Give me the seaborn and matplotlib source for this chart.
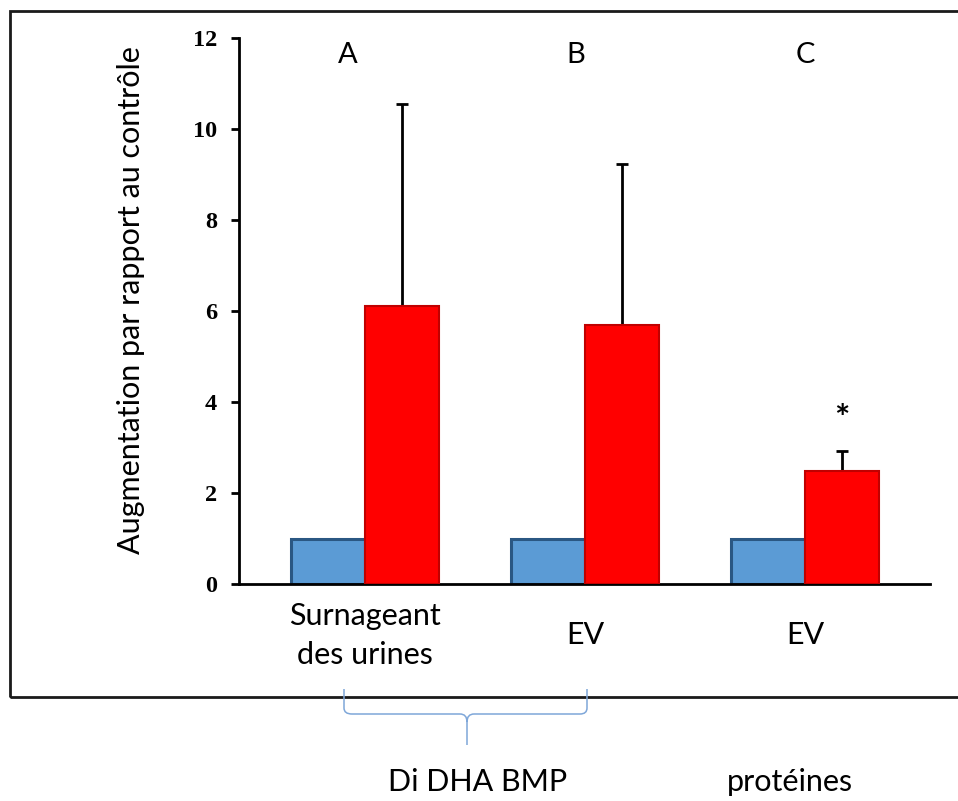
import matplotlib
matplotlib.use("Agg")
import matplotlib.pyplot as plt
import seaborn as sns
import pandas as pd
import numpy as np
from matplotlib.path import Path
from matplotlib.patches import PathPatch, Rectangle

# ---- data ----
group_keys = ["A", "B", "C"]
group_letters = ["A", "B", "C"]
tick_labels = ["Surnageant\ndes urines", "EV", "EV"]
series = ["Contrôle", "Traité"]
control_values = [1.0, 1.0, 1.0]
treated_values = [6.1, 5.7, 2.48]
treated_err_up = [4.45, 3.52, 0.45]
bottom_labels = ["Di DHA BMP", "protéines"]

rows = []
for k, c, t in zip(group_keys, control_values, treated_values):
    rows.append({"groupe": k, "serie": series[0], "valeur": c})
    rows.append({"groupe": k, "serie": series[1], "valeur": t})
df = pd.DataFrame(rows)

sns.set_style("white")
plt.rcParams["font.family"] = ["Lato", "DejaVu Sans"]
plt.rcParams["text.color"] = "black"
plt.rcParams["axes.labelcolor"] = "black"
plt.rcParams["xtick.color"] = "black"
plt.rcParams["ytick.color"] = "black"

W, H = 958, 801
fig = plt.figure(figsize=(W / 100, H / 100), dpi=100)
ax = fig.add_axes([239 / W, 1 - 584 / H, (930 - 239) / W, (584 - 38) / H])

palette = {series[0]: "#5B9BD5", series[1]: "#FF0000"}
sns.barplot(data=df, x="groupe", y="valeur", hue="serie", order=group_keys,
            hue_order=series, palette=palette, width=0.672, gap=0,
            errorbar=None, saturation=1, ax=ax, legend=False)

edge = {series[0]: "#2A5783", series[1]: "#C00000"}
bars = ax.patches
n = len(group_keys)
for i, p in enumerate(bars[:2 * n]):
    s = series[0] if i < n else series[1]
    p.set_edgecolor(edge[s])
    p.set_linewidth(2.2 if s == series[0] else 1.5)
    p.set_zorder(2 if s == series[0] else 3)

red_bars = bars[n:2 * n]
xs = [p.get_x() + p.get_width() / 2 for p in red_bars]
ax.errorbar(xs, treated_values, yerr=[np.zeros(n), treated_err_up], fmt="none",
            ecolor="black", elinewidth=2, capsize=4.5, capthick=2, zorder=1)

# significance star
ax.text(xs[2], 3.62, "*", ha="center", va="center", fontsize=26,
        fontweight="bold", color="black")

# group letters
letter_x = [-0.08, 0.96, 2.0]
for lx, L in zip(letter_x, group_letters):
    ax.text(lx, 11.63, L, ha="center", va="center", fontsize=21, color="black")

ax.set_xlim(-0.573, 2.568)
ax.set_ylim(0, 12)
ax.set_yticks([0, 2, 4, 6, 8, 10, 12])
ax.set_yticklabels(["0", "2", "4", "6", "8", "10", "12"],
                   family="Liberation Serif", fontweight="bold", fontsize=17.5)
ax.set_xticks(range(n))
ax.set_xticklabels(tick_labels, fontsize=22, linespacing=1.45)
for lbl in ax.get_xticklabels():
    lbl.set_va("center")
ax.tick_params(axis="x", length=0, pad=37, colors="black")
ax.tick_params(axis="y", direction="out", length=6, width=2, pad=10, left=True,
               colors="black")
ax.set_xlabel("")
ax.set_ylabel("Augmentation par rapport au contrôle", fontsize=22, color="black")
ax.yaxis.set_label_coords((145 - 239) / 691, (584 - 300) / 546)

for sp in ["top", "right"]:
    ax.spines[sp].set_visible(False)
for sp in ["left", "bottom"]:
    ax.spines[sp].set_color("black")
    ax.spines[sp].set_linewidth(2)
ax.set_facecolor("white")

# outer frame (extends beyond right edge)
frame = Rectangle((10 / W, 1 - 697 / H), (970 - 10) / W, (697 - 11) / H,
                  transform=fig.transFigure, fill=False, edgecolor="#1a1a1a",
                  linewidth=2, zorder=0)
fig.patches.append(frame)

# curly brace
def px(x, y):
    return (x / W, 1 - y / H)

verts = [px(344, 689), px(344, 708), px(344, 714), px(352, 714),
         px(460, 714), px(467, 714), px(467, 722), px(467, 745),
         px(467, 722), px(467, 714), px(474, 714), px(580, 714),
         px(587, 714), px(587, 708), px(587, 689)]
codes = [Path.MOVETO, Path.LINETO, Path.CURVE3, Path.CURVE3,
         Path.LINETO, Path.CURVE3, Path.CURVE3, Path.LINETO,
         Path.MOVETO, Path.CURVE3, Path.CURVE3, Path.LINETO,
         Path.CURVE3, Path.CURVE3, Path.LINETO]
brace = PathPatch(Path(verts, codes), transform=fig.transFigure, fill=False,
                  edgecolor="#7FA7D9", linewidth=1.1)
fig.patches.append(brace)

fig.text(478 / W, 1 - 782 / H, bottom_labels[0], ha="center", va="center", fontsize=22)
fig.text(790 / W, 1 - 782 / H, bottom_labels[1], ha="center", va="center", fontsize=22)

fig.savefig("out.png", dpi=100, facecolor="white")
